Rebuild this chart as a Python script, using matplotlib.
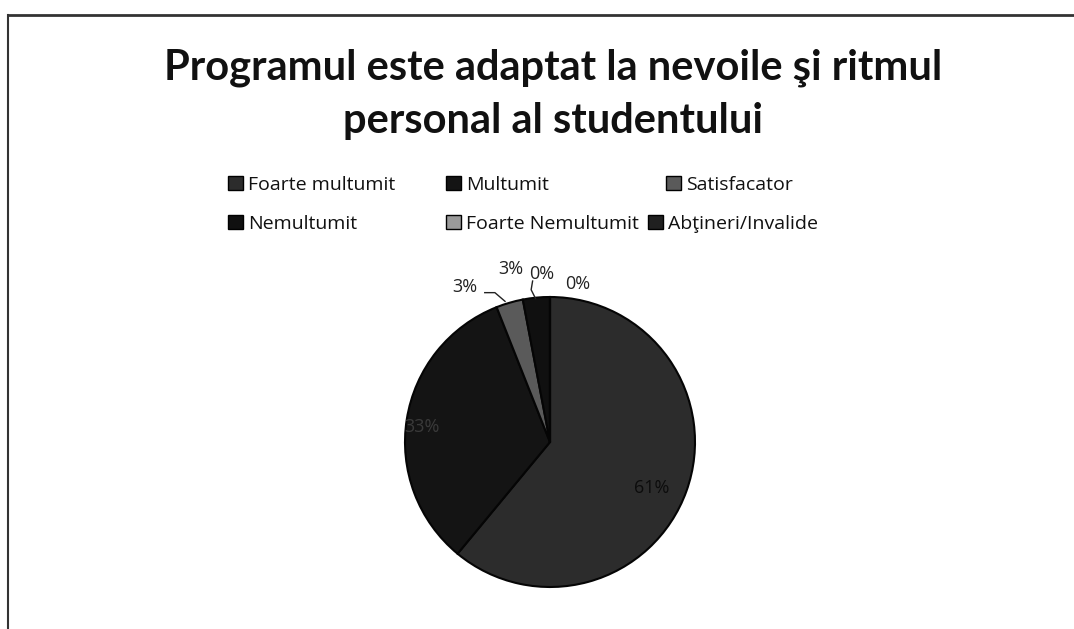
import matplotlib.pyplot as plt
from matplotlib.lines import Line2D
from matplotlib.patches import Patch

# date
categorii = ['Foarte multumit', 'Multumit', 'Satisfacator',
             'Nemultumit', 'Foarte Nemultumit', 'Abţineri/Invalide']
procente = [61, 33, 3, 3, 0, 0]
etichete = ['61%', '33%', '3%', '3%', '0%', '0%']

culori = ['#2c2c2c', '#141414', '#5a5a5a', '#101010', '#9a9a9a', '#202020']
culori_text = ['#0c0c0c', '#3a3a3a', '#222222', '#222222', '#222222', '#222222']

plt.rcParams['font.family'] = ['Lato', 'DejaVu Sans']

W, H = 1074, 629
fig = plt.figure(figsize=(W / 100, H / 100), dpi=100)
fig.patch.set_facecolor('white')

# chenarul graficului (scanat, se vede doar sus si stanga)
fig.add_artist(Line2D([8 / W, 1], [1 - 15 / H, 1 - 15 / H], color='#333333', lw=2))
fig.add_artist(Line2D([8 / W, 8 / W], [0, 1 - 15 / H], color='#333333', lw=1.5))

# titlu
fig.text(553 / W, 1 - 68 / H, 'Programul este adaptat la nevoile şi ritmul',
         ha='center', va='center', fontsize=30, fontweight='bold', color='#111111')
fig.text(553 / W, 1 - 121 / H, 'personal al studentului',
         ha='center', va='center', fontsize=30, fontweight='bold', color='#111111')

# pie
cx, cy, r = 550, 442, 145
ax = fig.add_axes([(cx - r) / W, (H - cy - r) / H, 2 * r / W, 2 * r / H])
wedges, _ = ax.pie(procente, colors=culori, startangle=90, counterclock=False,
                   radius=1, wedgeprops=dict(edgecolor='#050505', linewidth=1.5))
ax.set_xlim(-1, 1)
ax.set_ylim(-1, 1)
ax.set_aspect('equal')
ax.axis('off')

# etichete procente
poz_etichete = [(0.70, -0.32), (-0.88, 0.10), (-0.59, 1.07),
                (-0.27, 1.19), (-0.06, 1.16), (0.19, 1.09)]
for (x, y), t, c in zip(poz_etichete, etichete, culori_text):
    ax.text(x, y, t, ha='center', va='center', fontsize=13, color=c,
            family=['Open Sans', 'DejaVu Sans'], clip_on=False)

# linii de legatura
ax.plot([-0.45, -0.38, -0.31], [1.03, 1.03, 0.97], color='#222222', lw=1, clip_on=False)
ax.plot([-0.12, -0.13, -0.10], [1.11, 1.05, 0.99], color='#222222', lw=1, clip_on=False)

# legenda (fiecare intrare pozitionata ca in Excel)
poz_legenda = [(228, 185), (446, 185), (666, 185),
               (228, 224), (446, 224), (648, 224)]
for j, (x, y) in enumerate(poz_legenda):
    h = Patch(facecolor=culori[j], edgecolor='#000000', label=categorii[j])
    fig.legend(handles=[h], loc='center left', bbox_to_anchor=(x / W, 1 - y / H),
               frameon=False, handlelength=0.75, handleheight=0.75,
               handletextpad=0.3, borderpad=0, borderaxespad=0,
               labelcolor='#111111',
               prop=dict(family=['Open Sans', 'DejaVu Sans'], size=14))

fig.savefig('out.png', dpi=100)
